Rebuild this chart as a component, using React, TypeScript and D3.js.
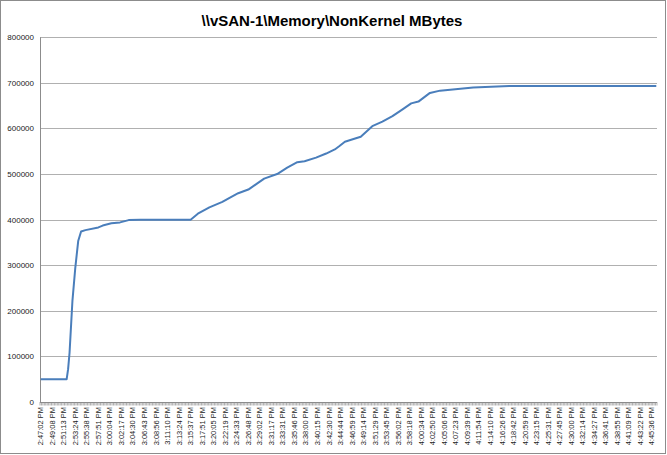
import * as d3 from 'd3';
import React, { useEffect, useRef } from 'react';

// x axis labels (one every 8 samples)
const timeLabels = [
  '2:47:02 PM', '2:49:08 PM', '2:51:13 PM', '2:53:24 PM', '2:55:38 PM', '2:57:51 PM',
  '3:00:04 PM', '3:02:17 PM', '3:04:30 PM', '3:06:43 PM', '3:08:56 PM', '3:11:10 PM',
  '3:13:24 PM', '3:15:37 PM', '3:17:51 PM', '3:20:05 PM', '3:22:19 PM', '3:24:33 PM',
  '3:26:48 PM', '3:29:02 PM', '3:31:17 PM', '3:33:31 PM', '3:35:46 PM', '3:38:00 PM',
  '3:40:15 PM', '3:42:30 PM', '3:44:44 PM', '3:46:59 PM', '3:49:14 PM', '3:51:29 PM',
  '3:53:45 PM', '3:56:02 PM', '3:58:18 PM', '4:00:34 PM', '4:02:50 PM', '4:05:06 PM',
  '4:07:23 PM', '4:09:39 PM', '4:11:54 PM', '4:14:10 PM', '4:16:26 PM', '4:18:42 PM',
  '4:20:59 PM', '4:23:15 PM', '4:25:31 PM', '4:27:45 PM', '4:30:00 PM', '4:32:14 PM',
  '4:34:27 PM', '4:36:41 PM', '4:38:55 PM', '4:41:09 PM', '4:43:22 PM', '4:45:36 PM',
];

const SAMPLE_COUNT = 428;
const LABEL_EVERY = 8;

// sample index -> NonKernel MBytes
const sampleIdx = [
  0, 18, 19, 20, 22, 24, 26, 28, 31, 40, 43, 49, 55, 61, 69, 104, 109, 117, 126, 131,
  137, 144, 150, 155, 164, 171, 178, 183, 191, 198, 204, 207, 211, 217, 222, 230, 237,
  244, 251, 257, 262, 270, 277, 300, 325, 427,
];
const memValues = [
  50000, 50000, 72000, 108000, 222000, 295000, 353000, 374000, 377000, 383000, 387000,
  392000, 394000, 399000, 400000, 400000, 413000, 427000, 439000, 448000, 458000, 466000,
  479000, 490000, 500000, 514000, 526000, 528000, 536000, 545000, 554000, 561000, 571000,
  577000, 582000, 605000, 615000, 627000, 642000, 655000, 659000, 678000, 683000, 690000,
  693000, 693000,
];

const yTicks = [0, 100000, 200000, 300000, 400000, 500000, 600000, 700000, 800000];

const W = 667;
const H = 455;

export default function App() {
  const svgRef = useRef<SVGSVGElement>(null);

  useEffect(() => {
    if (!svgRef.current) return;
    const svg = d3.select(svgRef.current);
    svg.selectAll('*').remove();

    const left = 40;
    const right = 657;
    const top = 37.3;
    const bottom = 402;

    const x = d3.scaleLinear().domain([0, SAMPLE_COUNT]).range([left, right]);
    const y = d3.scaleLinear().domain([0, 800000]).range([bottom, top]);

    // chart border
    svg.append('rect')
      .attr('x', 0.5).attr('y', 0.5)
      .attr('width', W - 2).attr('height', H - 2)
      .attr('fill', '#fff')
      .attr('stroke', '#8c8c8c');

    // title
    svg.append('text')
      .attr('x', 332)
      .attr('y', 26)
      .attr('text-anchor', 'middle')
      .style('font-family', 'Liberation Sans, Arial, sans-serif')
      .style('font-weight', 'bold')
      .style('font-size', '15px')
      .attr('fill', '#000')
      .text('\\\\vSAN-1\\Memory\\NonKernel MBytes');

    // gridlines
    svg.append('g')
      .selectAll('line')
      .data(yTicks.filter(d => d > 0))
      .join('line')
      .attr('x1', left).attr('x2', right)
      .attr('y1', d => Math.round(y(d)) + 0.5)
      .attr('y2', d => Math.round(y(d)) + 0.5)
      .attr('stroke', '#b0b0b0')
      .attr('stroke-width', 1);

    // y labels
    svg.append('g')
      .selectAll('text')
      .data(yTicks)
      .join('text')
      .attr('x', 34)
      .attr('y', d => y(d) + 3)
      .attr('text-anchor', 'end')
      .style('font-family', 'Liberation Sans, Arial, sans-serif')
      .style('font-size', '8px')
      .attr('fill', '#222')
      .text(d => String(d));

    // axes lines
    svg.append('line')
      .attr('x1', left + 0.5).attr('x2', left + 0.5)
      .attr('y1', top).attr('y2', bottom)
      .attr('stroke', '#8c8c8c');
    svg.append('line')
      .attr('x1', left).attr('x2', right)
      .attr('y1', bottom + 0.5).attr('y2', bottom + 0.5)
      .attr('stroke', '#8c8c8c');

    // dense category tick marks
    svg.append('g')
      .selectAll('line')
      .data(d3.range(0, SAMPLE_COUNT + 1))
      .join('line')
      .attr('x1', d => x(d)).attr('x2', d => x(d))
      .attr('y1', bottom).attr('y2', bottom + 3.5)
      .attr('stroke', '#8c8c8c')
      .attr('stroke-width', 0.7);

    // x labels
    svg.append('g')
      .selectAll('text')
      .data(timeLabels)
      .join('text')
      .attr('transform', (_, i) => `translate(${x(i * LABEL_EVERY + 0.5) + 2.5},${bottom + 5}) rotate(-90)`)
      .attr('text-anchor', 'end')
      .style('font-family', 'Liberation Sans, Arial, sans-serif')
      .style('font-size', '7.5px')
      .attr('fill', '#222')
      .text(d => d);

    // series
    const pts = sampleIdx.map((s, i) => [s, memValues[i]] as [number, number]);
    const line = d3.line<[number, number]>()
      .x(d => x(d[0] + 0.5))
      .y(d => y(d[1]));
    svg.append('path')
      .datum(pts)
      .attr('fill', 'none')
      .attr('stroke', '#4a7ebb')
      .attr('stroke-width', 2)
      .attr('stroke-linejoin', 'round')
      .attr('d', line);
  }, []);

  return (
    <div style={{ position: 'absolute', left: 0, top: 0 }}>
      <svg ref={svgRef} width={W} height={H} />
    </div>
  );
}
